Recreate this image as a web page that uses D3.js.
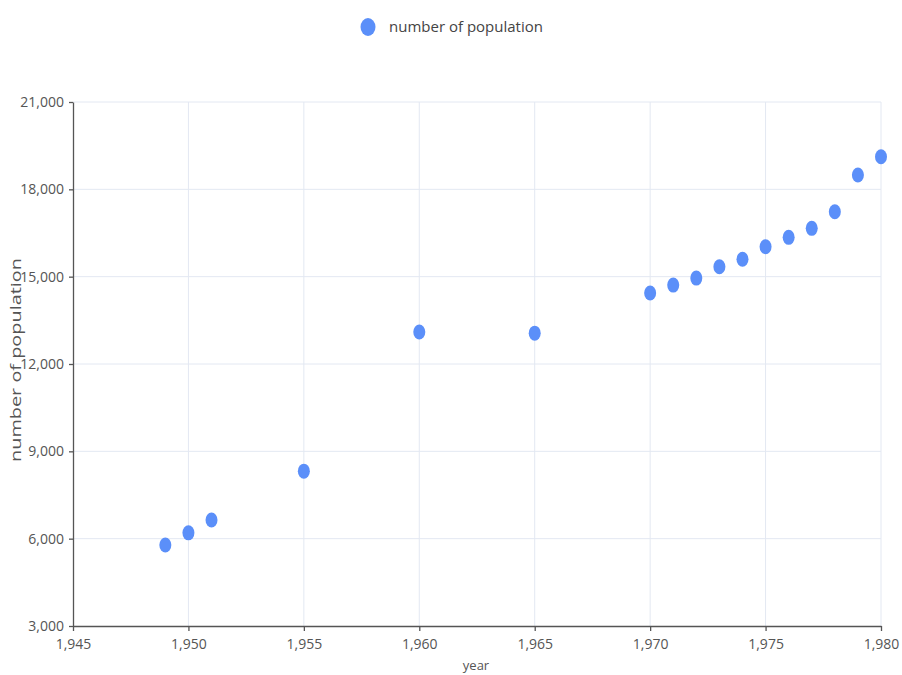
<!DOCTYPE html>
<html>
<head>
<meta charset="utf-8">
<script src="https://cdn.jsdelivr.net/npm/d3@7"></script>
<style>
  body { margin: 0; background: #fff; }
  text { font-family: "Open Sans", "Noto Sans", sans-serif; }
</style>
</head>
<body>
<script>
//data
var years = [1949, 1950, 1951, 1955, 1960, 1965, 1970, 1971, 1972, 1973, 1974, 1975, 1976, 1977, 1978, 1979, 1980];
var population = [5780, 6200, 6640, 8320, 13100, 13060, 14440, 14710, 14950, 15340, 15600, 16030, 16350, 16660, 17230, 18490, 19120];
var xTicks = [1945, 1950, 1955, 1960, 1965, 1970, 1975, 1980];
var yTicks = [3000, 6000, 9000, 12000, 15000, 18000, 21000];
var seriesName = "number of population";

//width and height
var w = 902;
var h = 675;

//plot area (named so they don't clash with window.top)
var plotLeft = 73, plotRight = 881, plotTop = 102, plotBottom = 626;

var svg = d3.select("body")
            .append("svg")
            .attr("width", w)
            .attr("height", h);

var x = d3.scaleLinear()
            .domain([1945, 1980])
            .range([plotLeft, plotRight]);

var y = d3.scaleLinear()
            .domain([3000, 21000])
            .range([plotBottom, plotTop]);

var fmt = d3.format(",");

//grid lines
svg.append("g")
    .selectAll("line")
    .data(yTicks.slice(1))
    .enter()
    .append("line")
    .attr("x1", plotLeft)
    .attr("x2", plotRight)
    .attr("y1", function(d) { return y(d); })
    .attr("y2", function(d) { return y(d); })
    .attr("stroke", "#e3e8f2")
    .attr("stroke-width", 1);

svg.append("g")
    .selectAll("line")
    .data(xTicks.slice(1))
    .enter()
    .append("line")
    .attr("x1", function(d) { return x(d); })
    .attr("x2", function(d) { return x(d); })
    .attr("y1", plotTop)
    .attr("y2", plotBottom)
    .attr("stroke", "#e3e8f2")
    .attr("stroke-width", 1);

//x axis
var xAxis = svg.append("g")
    .attr("transform", "translate(0," + plotBottom + ")")
    .call(d3.axisBottom(x).tickValues(xTicks).tickFormat(fmt).tickSize(5).tickSizeOuter(0));

//y axis
var yAxis = svg.append("g")
    .attr("transform", "translate(" + plotLeft + ",0)")
    .call(d3.axisLeft(y).tickValues(yTicks).tickFormat(fmt).tickSize(4).tickSizeOuter(0));

[xAxis, yAxis].forEach(function(a) {
    a.select(".domain").attr("stroke", "#555").attr("stroke-width", 1.3);
    a.selectAll(".tick line").attr("stroke", "#555").attr("stroke-width", 1.3);
    a.selectAll(".tick text")
        .attr("fill", "#555")
        .style("font-size", "14px")
        .style("font-family", "'Open Sans', sans-serif");
});
xAxis.selectAll(".tick text").attr("dy", "1.05em");
yAxis.selectAll(".tick text").attr("dx", "-2px");

//axis titles
svg.append("text")
    .attr("x", 476)
    .attr("y", 670)
    .attr("text-anchor", "middle")
    .attr("fill", "#555")
    .style("font-size", "13px")
    .text("year");

//y title is stretched in the reference, so stretch the glyphs too
svg.append("text")
    .attr("transform", "translate(21,360) rotate(-90)")
    .attr("text-anchor", "middle")
    .attr("fill", "#555")
    .attr("textLength", 204)
    .attr("lengthAdjust", "spacingAndGlyphs")
    .style("font-size", "15px")
    .text(seriesName);

//points
svg.append("g")
    .selectAll("ellipse")
    .data(years)
    .enter()
    .append("ellipse")
    .attr("cx", function(d) { return x(d); })
    .attr("cy", function(d, i) { return y(population[i]); })
    .attr("rx", 6)
    .attr("ry", 7.5)
    .style("fill", "#5b8ff9");

//legend
svg.append("ellipse")
    .attr("cx", 368)
    .attr("cy", 27)
    .attr("rx", 7.5)
    .attr("ry", 9)
    .style("fill", "#5b8ff9");

svg.append("text")
    .attr("x", 389)
    .attr("y", 32)
    .attr("fill", "#444")
    .style("font-size", "15px")
    .text(seriesName);
</script>
</body>
</html>
